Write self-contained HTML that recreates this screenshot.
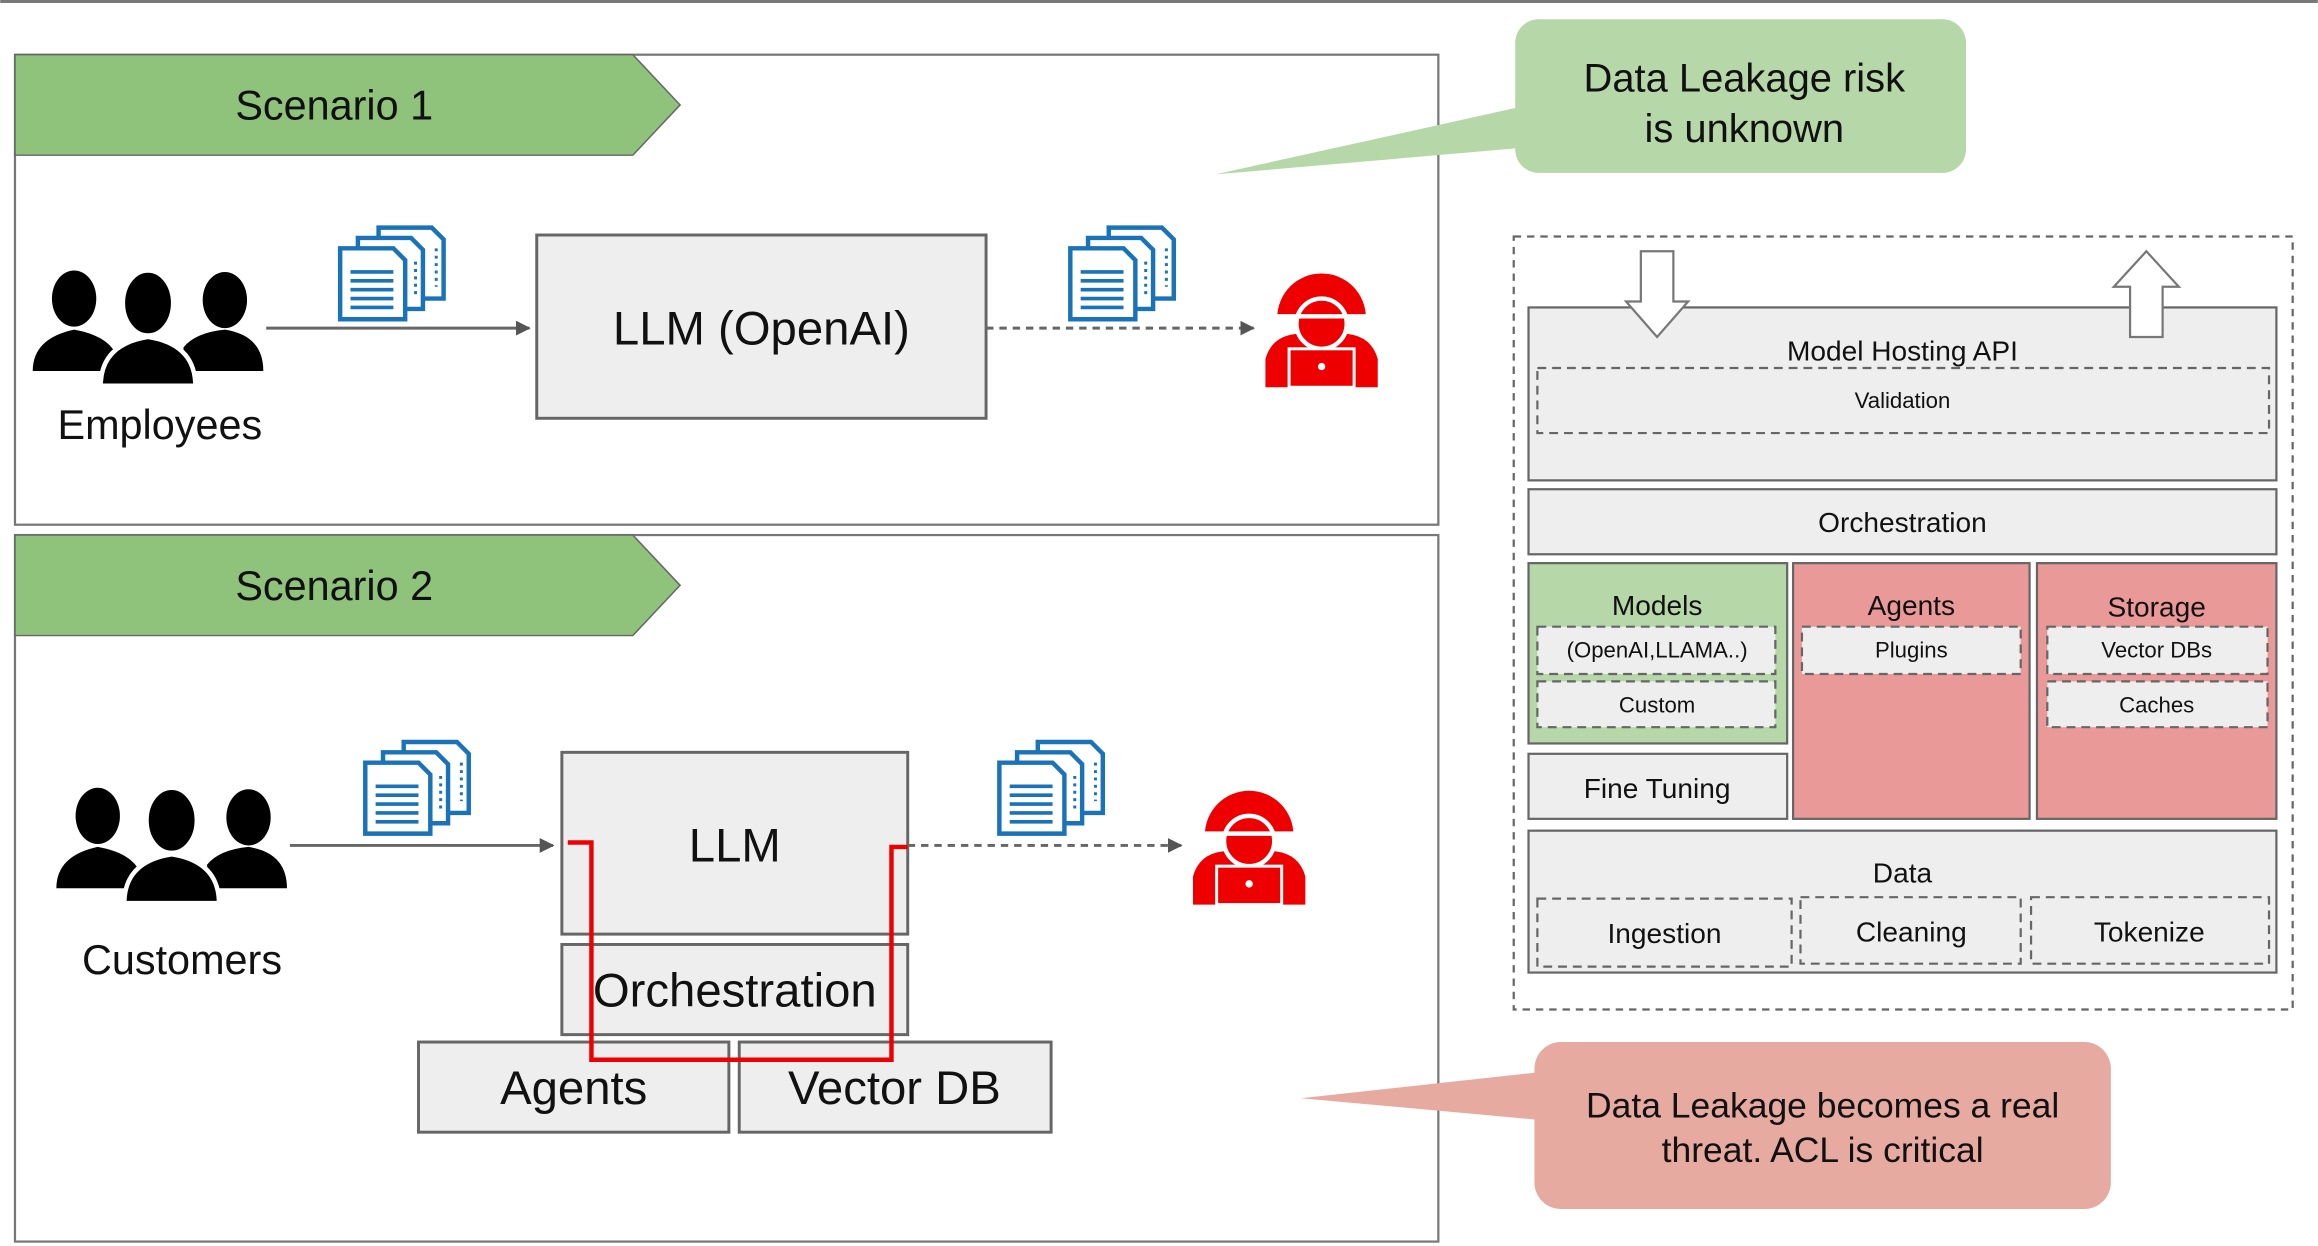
<!DOCTYPE html>
<html><head><meta charset="utf-8"><style>html,body{margin:0;padding:0;background:#fff}svg{display:block}text{font-family:"Liberation Sans",sans-serif;fill:#111}</style></head><body>
<svg width="2318" height="1246" viewBox="0 0 1568 843" xmlns="http://www.w3.org/2000/svg">
<defs>
<g id="docs">
<g fill="#fff" stroke="#1a73b8" stroke-width="3">
<path d="M28,2 H64 L72,10 V50 H28 Z"/>
<path d="M14,9 H50 L58,17 V57 H14 Z"/>
<path d="M2,16 H38 L46,24 V64 H2 Z"/>
</g>
<g stroke="#1a73b8" stroke-width="2.5"><line x1="9" y1="32" x2="38" y2="32"/><line x1="9" y1="38" x2="38" y2="38"/><line x1="9" y1="44" x2="38" y2="44"/><line x1="9" y1="50" x2="38" y2="50"/><line x1="9" y1="56" x2="38" y2="56"/></g>
<g stroke="#1a73b8" stroke-width="2" stroke-dasharray="2 3"><line x1="53" y1="25" x2="53" y2="50"/><line x1="67" y1="16" x2="67" y2="42"/></g>
</g>
<g id="people">
<ellipse cx="30" cy="19" rx="15" ry="19"/>
<path d="M2,68 Q2,46 30,40 Q52,44 58,56 L58,68 Z"/>
<ellipse cx="132" cy="20" rx="15" ry="19"/>
<path d="M104,68 L104,52 Q112,42 132,40 Q158,44 158,68 Z"/>
<ellipse cx="80" cy="22" rx="17" ry="22" stroke="#fff" stroke-width="3"/>
<path d="M48,78 Q48,50 80,45 Q112,50 112,78 Z" stroke="#fff" stroke-width="3"/>
</g>
<g id="hacker">
<path d="M14,32 A30,30 0 0 1 74,32 Z" fill="#e00"/>
<path d="M6,79 L6,60 Q10,45 26,43 L62,43 Q78,45 82,60 L82,79 Z" fill="#e00"/>
<circle cx="44" cy="36" r="17" fill="#e00" stroke="#fff" stroke-width="3"/>
<line x1="12" y1="31" x2="76" y2="31" stroke="#fff" stroke-width="3"/>
<rect x="22" y="53" width="44" height="26" fill="#e00" stroke="#fff" stroke-width="2"/>
<circle cx="44" cy="65" r="2.5" fill="#fff"/>
</g>
<marker id="ah" markerWidth="10" markerHeight="10" refX="9" refY="5" orient="auto" markerUnits="userSpaceOnUse"><path d="M0,0 L10,5 L0,10 Z" fill="#555"/></marker>
</defs>
<rect x="0" y="0" width="1568" height="2" fill="#777"/>
<!-- Scenario 1 -->
<rect x="10" y="37" width="963" height="318" fill="#fff" stroke="#777" stroke-width="1.5"/>
<path d="M10,37 H428 L460,71 L428,105 H10 Z" fill="#8fc27b" stroke="#666" stroke-width="1"/>
<text x="226" y="81" font-size="28" text-anchor="middle">Scenario 1</text>
<use href="#people" x="20" y="183"/>
<text x="108" y="297" font-size="28" text-anchor="middle">Employees</text>
<use href="#docs" x="228" y="152"/>
<line x1="180" y1="222" x2="358" y2="222" stroke="#666" stroke-width="2" marker-end="url(#ah)"/>
<rect x="363" y="159" width="304" height="124" fill="#eee" stroke="#666" stroke-width="2"/>
<text x="515" y="233" font-size="32" text-anchor="middle">LLM (OpenAI)</text>
<line x1="667" y1="222" x2="848" y2="222" stroke="#666" stroke-width="2" stroke-dasharray="5 4" marker-end="url(#ah)"/>
<use href="#docs" x="722" y="152"/>
<use href="#hacker" x="850" y="183"/>
<!-- callout green -->
<path d="M1030,72 L822,118 L1030,100 Z" fill="#b6d7a8"/>
<rect x="1025" y="13" width="305" height="104" rx="16" fill="#b6d7a8"/>
<text x="1180" y="62" font-size="27" text-anchor="middle">Data Leakage risk</text>
<text x="1180" y="96" font-size="27" text-anchor="middle">is unknown</text>
<!-- Scenario 2 -->
<rect x="10" y="362" width="963" height="478" fill="#fff" stroke="#777" stroke-width="1.5"/>
<path d="M10,362 H428 L460,396 L428,430 H10 Z" fill="#8fc27b" stroke="#666" stroke-width="1"/>
<text x="226" y="406" font-size="28" text-anchor="middle">Scenario 2</text>
<use href="#people" x="36" y="533"/>
<text x="123" y="659" font-size="28" text-anchor="middle">Customers</text>
<use href="#docs" x="245" y="500"/>
<line x1="196" y1="572" x2="374" y2="572" stroke="#666" stroke-width="2" marker-end="url(#ah)"/>
<rect x="380" y="509" width="234" height="123" fill="#eee" stroke="#666" stroke-width="2"/>
<text x="497" y="583" font-size="32" text-anchor="middle">LLM</text>
<rect x="380" y="639" width="234" height="61" fill="#eee" stroke="#666" stroke-width="2"/>
<text x="497" y="681" font-size="32" text-anchor="middle">Orchestration</text>
<rect x="283" y="705" width="210" height="61" fill="#eee" stroke="#666" stroke-width="2"/>
<text x="388" y="747" font-size="32" text-anchor="middle">Agents</text>
<rect x="500" y="705" width="211" height="61" fill="#eee" stroke="#666" stroke-width="2"/>
<text x="605" y="747" font-size="32" text-anchor="middle">Vector DB</text>
<path d="M384,570 H400 V717 H603 V573 H614" fill="none" stroke="#e00" stroke-width="3"/>
<line x1="614" y1="572" x2="799" y2="572" stroke="#666" stroke-width="2" stroke-dasharray="5 4" marker-end="url(#ah)"/>
<use href="#docs" x="674" y="500"/>
<use href="#hacker" x="801" y="533"/>
<!-- callout red -->
<path d="M1045,725 L880,743 L1045,758 Z" fill="#e6aaa0"/>
<rect x="1038" y="705" width="390" height="113" rx="18" fill="#e6aaa0"/>
<text x="1233" y="756" font-size="24" text-anchor="middle">Data Leakage becomes a real</text>
<text x="1233" y="786" font-size="24" text-anchor="middle">threat. ACL is critical</text>
<!-- Right panel -->
<rect x="1024" y="160" width="527" height="523" fill="#fff" stroke="#666" stroke-width="1.5" stroke-dasharray="5 4"/>
<rect x="1034" y="208" width="506" height="117" fill="#eee" stroke="#666" stroke-width="1.5"/>
<text x="1287" y="244" font-size="19" text-anchor="middle">Model Hosting API</text>
<rect x="1040" y="249" width="495" height="44" fill="#eee" stroke="#666" stroke-width="1.5" stroke-dasharray="6 4"/>
<text x="1287" y="276" font-size="15" text-anchor="middle">Validation</text>
<path d="M1110,170 H1132 V204 H1142 L1121,228 L1100,204 H1110 Z" fill="#fff" stroke="#777" stroke-width="1.5"/>
<path d="M1441,228 H1463 V194 H1474 L1452,170 L1430,194 H1441 Z" fill="#fff" stroke="#777" stroke-width="1.5"/>
<rect x="1034" y="331" width="506" height="44" fill="#eee" stroke="#666" stroke-width="1.5"/>
<text x="1287" y="360" font-size="19" text-anchor="middle">Orchestration</text>
<rect x="1034" y="381" width="175" height="122" fill="#b6d7a8" stroke="#666" stroke-width="1.5"/>
<text x="1121" y="416" font-size="19" text-anchor="middle">Models</text>
<rect x="1040" y="424" width="161" height="32" fill="#eee" stroke="#666" stroke-width="1.5" stroke-dasharray="6 4"/>
<text x="1121" y="445" font-size="15" text-anchor="middle">(OpenAI,LLAMA..)</text>
<rect x="1040" y="461" width="161" height="31" fill="#eee" stroke="#666" stroke-width="1.5" stroke-dasharray="6 4"/>
<text x="1121" y="482" font-size="15" text-anchor="middle">Custom</text>
<rect x="1034" y="510" width="175" height="44" fill="#eee" stroke="#666" stroke-width="1.5"/>
<text x="1121" y="540" font-size="19" text-anchor="middle">Fine Tuning</text>
<rect x="1213" y="381" width="160" height="173" fill="#ea9999" stroke="#666" stroke-width="1.5"/>
<text x="1293" y="416" font-size="19" text-anchor="middle">Agents</text>
<rect x="1219" y="424" width="148" height="32" fill="#eee" stroke="#666" stroke-width="1.5" stroke-dasharray="6 4"/>
<text x="1293" y="445" font-size="15" text-anchor="middle">Plugins</text>
<rect x="1378" y="381" width="162" height="173" fill="#ea9999" stroke="#666" stroke-width="1.5"/>
<text x="1459" y="417" font-size="19" text-anchor="middle">Storage</text>
<rect x="1385" y="424" width="149" height="32" fill="#eee" stroke="#666" stroke-width="1.5" stroke-dasharray="6 4"/>
<text x="1459" y="445" font-size="15" text-anchor="middle">Vector DBs</text>
<rect x="1385" y="461" width="149" height="31" fill="#eee" stroke="#666" stroke-width="1.5" stroke-dasharray="6 4"/>
<text x="1459" y="482" font-size="15" text-anchor="middle">Caches</text>
<rect x="1034" y="562" width="506" height="96" fill="#eee" stroke="#666" stroke-width="1.5"/>
<text x="1287" y="597" font-size="19" text-anchor="middle">Data</text>
<rect x="1040" y="608" width="172" height="46" fill="#eee" stroke="#666" stroke-width="1.5" stroke-dasharray="6 4"/>
<text x="1126" y="638" font-size="19" text-anchor="middle">Ingestion</text>
<rect x="1218" y="607" width="149" height="45" fill="#eee" stroke="#666" stroke-width="1.5" stroke-dasharray="6 4"/>
<text x="1293" y="637" font-size="19" text-anchor="middle">Cleaning</text>
<rect x="1374" y="607" width="161" height="45" fill="#eee" stroke="#666" stroke-width="1.5" stroke-dasharray="6 4"/>
<text x="1454" y="637" font-size="19" text-anchor="middle">Tokenize</text>
</svg>
</body></html>
